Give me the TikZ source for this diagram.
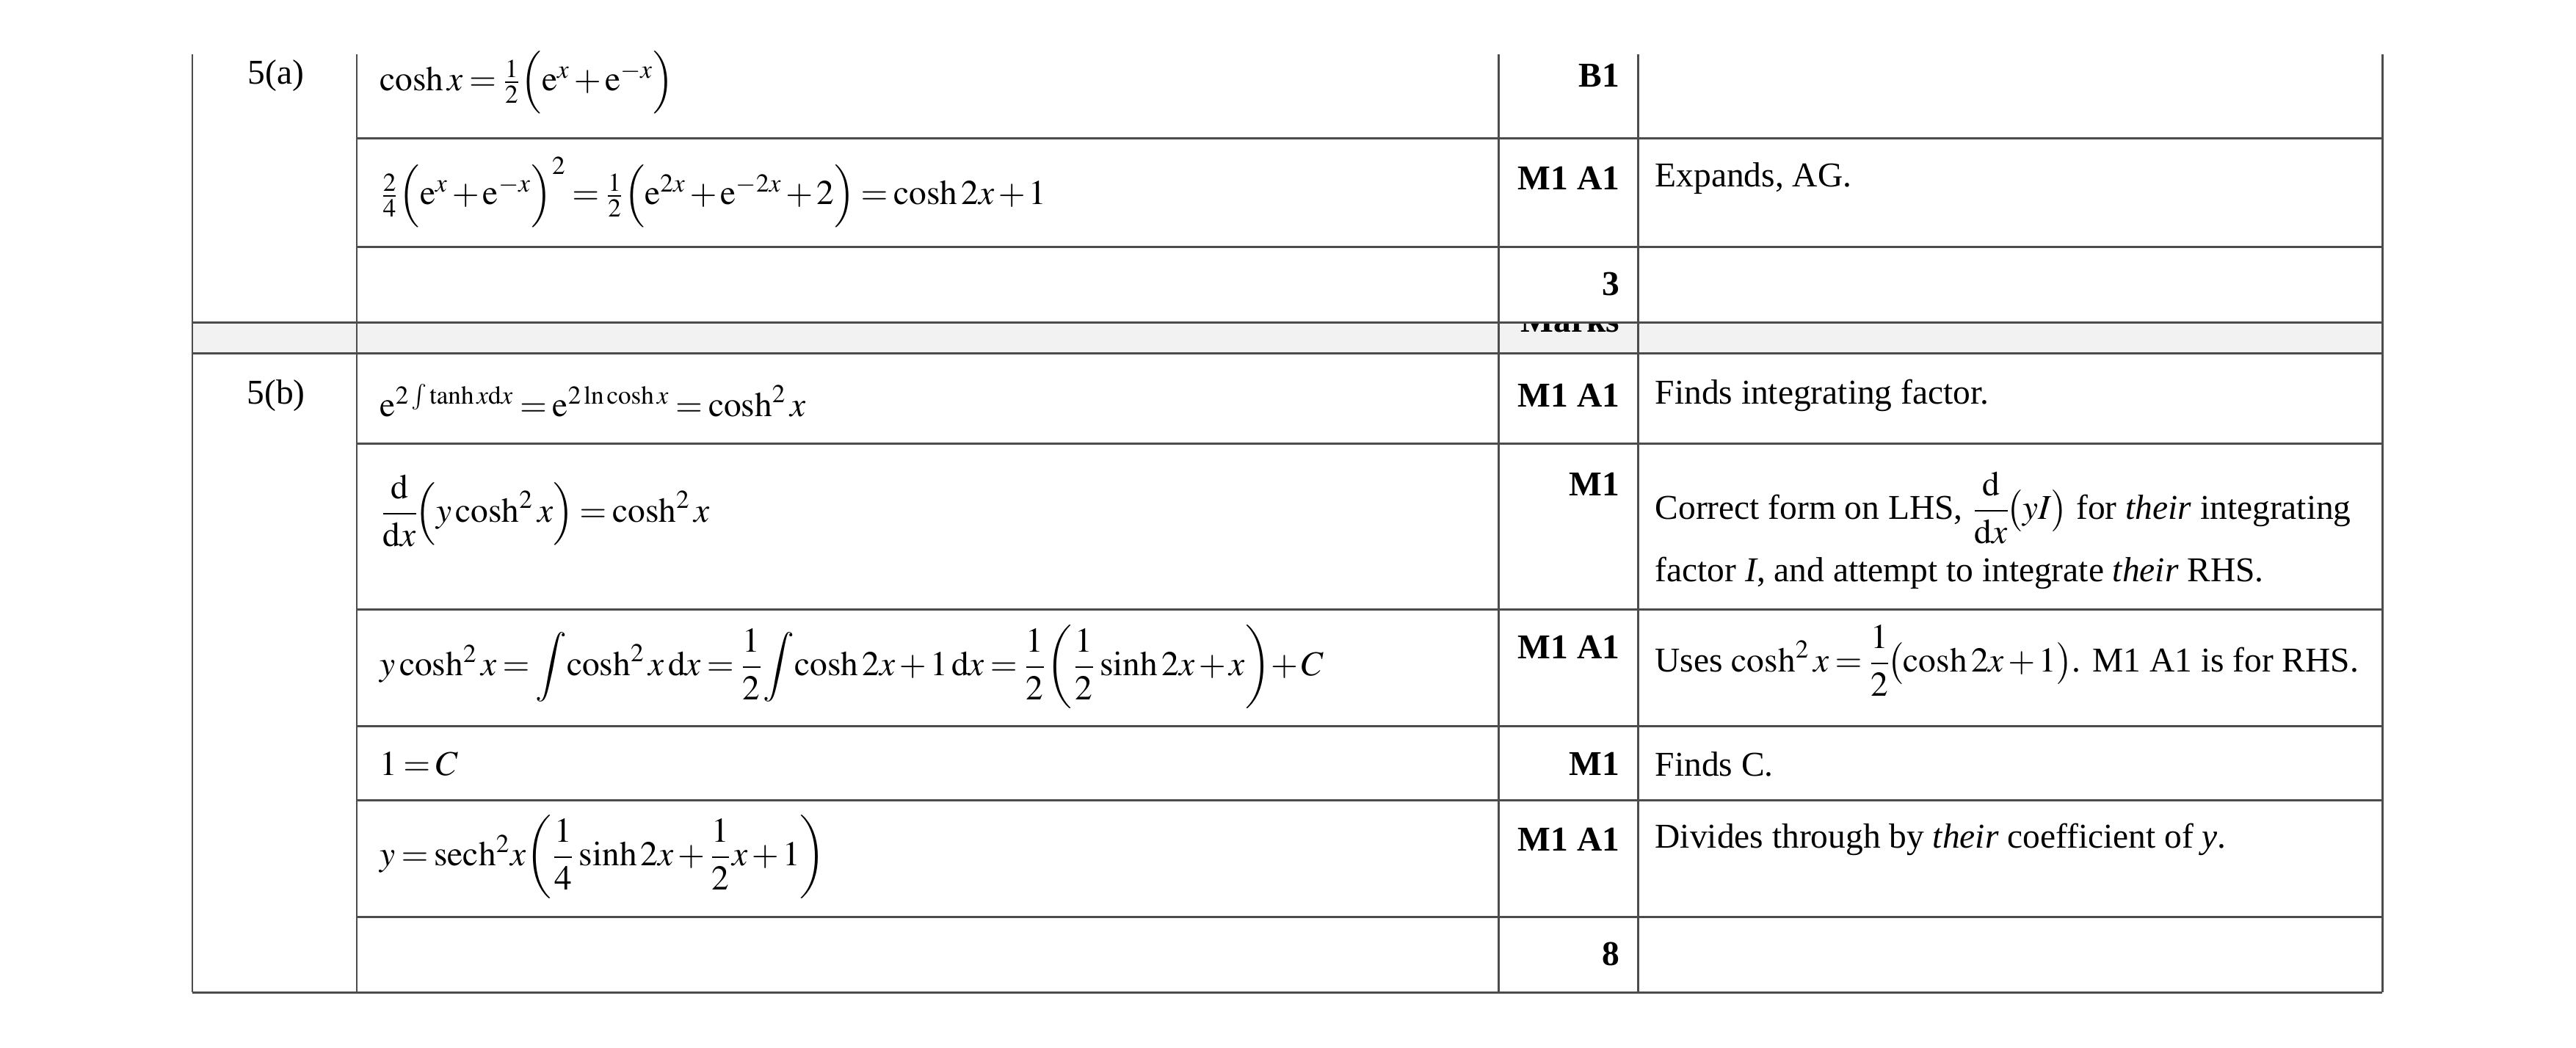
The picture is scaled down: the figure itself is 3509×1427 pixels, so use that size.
\documentclass[tikz,border=0pt]{standalone}
\usepackage{amsmath}
\usepackage{mathptmx}
\usepackage[no-math]{fontspec}
\setmainfont{Liberation Serif}
\begin{document}
\begin{tikzpicture}[x=0.1mm,y=-0.1mm,
  rule/.style={draw=black!70,line width=0.85pt},
  txt/.style={inner sep=0pt,font=\fontsize{13.5}{16}\selectfont,execute at begin node={\medmuskip=2mu\relax\thickmuskip=3mu\relax}},
  lt/.style={txt,anchor=west},
  rt/.style={txt,anchor=east,font=\fontsize{13.5}{16}\selectfont\bfseries}]
\useasboundingbox (0,0) rectangle (3509,1427);
\fill[black!5] (262,439) rectangle (3245,481);
\begin{scope}
\clip (262,439) rectangle (3245,481);
\node[txt,anchor=base east,font=\fontsize{13.5}{16}\selectfont\bfseries] (mk) at (2207,452) {Marks};
\end{scope}
% rules
\draw[rule] (262,74) -- (262,1352) (486,74) -- (486,1352) (2041,74) -- (2041,1352) (2231,74) -- (2231,1352) (3245,74) -- (3245,1352);
\foreach \y in {188,336,604,830,989,1090,1249} \draw[rule] (486,\y) -- (3245,\y);
\foreach \y in {439,481,1352} \draw[rule] (262,\y) -- (3245,\y);
% 5(a)
\node[txt] (qa) at (376,103) {5(a)};
\node[lt] (a1) at (517,112) {$\cosh x=\tfrac12\Bigl(\mathrm{e}^{x}+\mathrm{e}^{-x}\Bigr)$};
\node[rt] (ma1) at (2207,103) {B1};
\node[lt] (a2) at (517,262) {$\tfrac24\Bigl(\mathrm{e}^{x}+\mathrm{e}^{-x}\Bigr)^{2}=\tfrac12\Bigl(\mathrm{e}^{2x}+\mathrm{e}^{-2x}+2\Bigr)=\cosh 2x+1$};
\node[rt] (ma2) at (2207,243) {M1 A1};
\node[lt] (ca2) at (2254,243) {Expands, AG.};
\node[rt] (ma3) at (2207,387) {3};
% 5(b)
\node[txt] (qb) at (376,539) {5(b)};
\node[lt] (b1) at (517,546) {$\mathrm{e}^{2\int\tanh x\mathrm{d}x}=\mathrm{e}^{2\ln\cosh x}=\cosh^2 x$};
\node[rt] (mb1) at (2207,539) {M1 A1};
\node[lt] (cb1) at (2254,539) {Finds integrating factor.};
\node[lt] (b2) at (517,696) {$\dfrac{\mathrm{d}}{\mathrm{d}x}\!\Bigl(y\cosh^2 x\Bigr)=\cosh^2 x$};
\node[rt] (mb2) at (2207,660) {M1};
\node[lt] (cb2) at (2254,692) {Correct form on LHS, $\dfrac{\mathrm{d}}{\mathrm{d}x}\!\bigl(yI\bigr)$ for \textit{their} integrating};
\node[lt] (cb2b) at (2254,781) {factor \textit{I}, and attempt to integrate \textit{their} RHS.};
\node[lt] (b3) at (517,909) {$y\cosh^2 x=\displaystyle\int\!\cosh^2 x\,\mathrm{d}x=\frac12\!\int\!\cosh 2x+1\,\mathrm{d}x=\frac12\!\left(\frac12\sinh 2x+x\right)\!+C$};
\node[rt] (mb3) at (2207,882) {M1 A1};
\node[lt] (cb3) at (2254,900) {Uses $\cosh^2 x=\dfrac12\!\bigl(\cosh 2x+1\bigr)$. M1 A1 is for RHS.};
\node[lt] (b4) at (517,1041) {$1=C$};
\node[rt] (mb4) at (2207,1041) {M1};
\node[lt] (cb4) at (2254,1041) {Finds C.};
\node[lt] (b5) at (517,1168) {$y=\mathrm{sech}^2 x\!\left(\dfrac14\sinh 2x+\dfrac12 x+1\right)$};
\node[rt] (mb5) at (2207,1144) {M1 A1};
\node[lt] (cb5) at (2254,1144) {Divides through by \textit{their} coefficient of \textit{y}.};
\node[rt] (mb6) at (2207,1300) {8};
\end{tikzpicture}
\end{document}
